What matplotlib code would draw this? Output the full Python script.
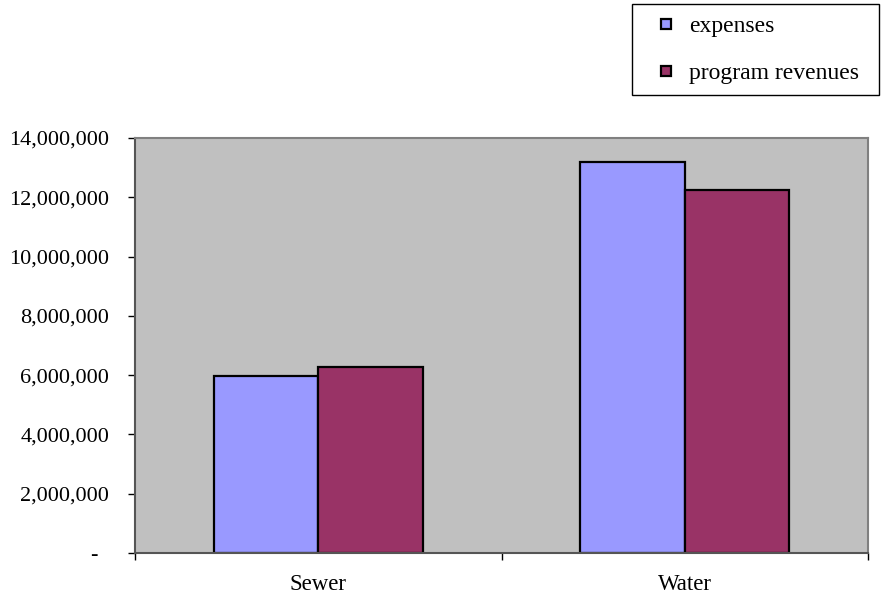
import matplotlib
matplotlib.use("Agg")
import matplotlib.pyplot as plt
from matplotlib.lines import Line2D
from matplotlib.patches import Rectangle
from matplotlib.ticker import FuncFormatter
import numpy as np

categories = ["Sewer", "Water"]
expenses = [5980000, 13200000]
program_revenues = [6260000, 12240000]
series_names = ["expenses", "program revenues"]
colors = ['#9999FF', '#993366']

plt.rcParams['font.family'] = ['Liberation Serif', 'DejaVu Serif']

fig = plt.figure(figsize=(8.81, 5.94), dpi=100)
# plot area in pixels: x 135..868, y 138..553
ax = fig.add_axes([135 / 881, 1 - 553 / 594, (868 - 135) / 881, (553 - 138) / 594])
ax.set_facecolor('#C0C0C0')

x = np.arange(len(categories))
w = 1 / 3.5  # gap width 150%
ax.bar(x - w / 2, expenses, w, color=colors[0], edgecolor='black', linewidth=1.6)
ax.bar(x + w / 2, program_revenues, w, color=colors[1], edgecolor='black', linewidth=1.6)

ax.set_xlim(-0.5, len(categories) - 0.5)
ax.set_ylim(0, 14000000)
ax.set_yticks(np.arange(0, 14000001, 2000000))


def fmt(v, pos):
    if v == 0:
        return "-  "
    return f"{int(v):,}"


ax.yaxis.set_major_formatter(FuncFormatter(fmt))
ax.set_xticks(x)
ax.set_xticklabels(categories)
ax.set_xticks(np.arange(-0.5, len(categories), 1.0), minor=True)
ax.tick_params(axis='x', which='major', length=0, pad=15, labelsize=16.5)
ax.tick_params(axis='x', which='minor', length=5, width=1, color='black')
ax.tick_params(axis='y', length=5, width=1, color='black', pad=13.5, labelsize=16)

for side in ['top', 'right']:
    ax.spines[side].set_color('#808080')
    ax.spines[side].set_linewidth(1.5)
for side in ['left', 'bottom']:
    ax.spines[side].set_color('#555555')
    ax.spines[side].set_linewidth(1.5)

# legend: small square swatches inside a plain box
handles = [Line2D([], [], marker='s', markersize=7.5, linestyle='none',
                  markerfacecolor=c, markeredgecolor='black', markeredgewidth=1.6)
           for c in colors]
fig.legend(handles=handles, labels=series_names, loc='center left',
           bbox_to_anchor=(642 / 881, 1 - 50 / 594), fontsize=17, frameon=False,
           handlelength=2.0, handletextpad=0.0, labelspacing=1.08,
           borderpad=0, borderaxespad=0)
fig.patches.append(Rectangle((632 / 881, 1 - 95 / 594), 247 / 881, 91 / 594,
                             transform=fig.transFigure, fill=False,
                             edgecolor='black', linewidth=1.0))

fig.savefig('out.png', dpi=100)
